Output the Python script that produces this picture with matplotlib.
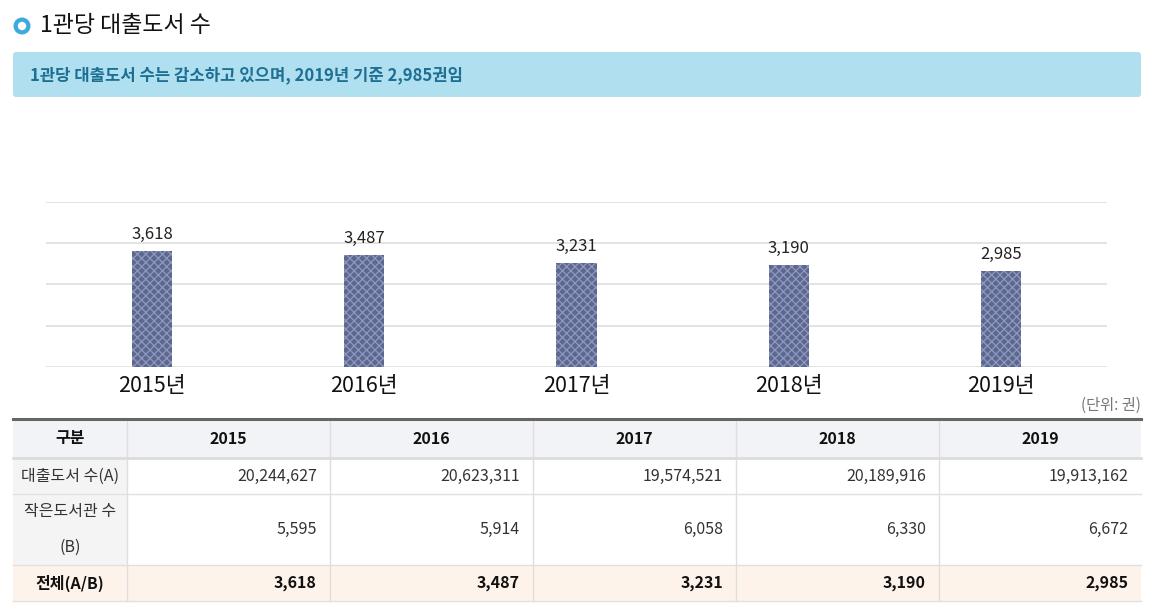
import matplotlib
matplotlib.use("Agg")
import matplotlib.pyplot as plt
import numpy as np
from matplotlib.patches import Rectangle, FancyBboxPatch, Circle

plt.rcParams['font.family'] = ['Noto Sans CJK KR', 'DejaVu Sans']
plt.rcParams['hatch.linewidth'] = 0.9

# data
years = ['2015', '2016', '2017', '2018', '2019']
year_labels = [y + '년' for y in years]
per_library = [3618, 3487, 3231, 3190, 2985]
loans = [20244627, 20623311, 19574521, 20189916, 19913162]
libraries = [5595, 5914, 6058, 6330, 6672]

title = '1관당 대출도서 수'
summary = '1관당 대출도서 수는 감소하고 있으며, 2019년 기준 2,985권임'
unit_note = '(단위: 권)'
row_heads = ['구분', '대출도서 수(A)', '작은도서관 수\n\n(B)', '전체(A/B)']

W, H = 1158, 614
fig = plt.figure(figsize=(W / 100, H / 100), dpi=100)

# overlay in pixel coords for header + table
ov = fig.add_axes([0, 0, 1, 1])
ov.set_xlim(0, W)
ov.set_ylim(H, 0)
ov.axis('off')

# title icon + title
ov.add_patch(Circle((22, 26), 8.5, facecolor='#3fa9dd', edgecolor='none'))
ov.add_patch(Circle((22, 26), 4.2, facecolor='white', edgecolor='none'))
ov.text(40, 25, title, fontsize=16.5, va='center', ha='left', color='#111111')

# summary box
ov.add_patch(FancyBboxPatch((15, 54), 1124, 41, boxstyle='round,pad=2,rounding_size=3',
                            facecolor='#b0e0f0', edgecolor='none'))
ov.text(30, 75, summary, fontsize=12, fontweight='bold', va='center', ha='left',
        color='#1d6f93')

# bar chart
ax = fig.add_axes([46 / W, (H - 367) / H, (1107 - 46) / W, (367 - 202) / H])
ymax = 5150
x = np.arange(len(years))
ax.bar(x, per_library, width=0.19, color='#5d6892', edgecolor='#8f99bb',
       hatch='xxxx', linewidth=0, zorder=3)
for xi, v in zip(x, per_library):
    ax.annotate(f'{v:,}', (xi, v), xytext=(0, 6), textcoords='offset points',
                ha='center', va='bottom', fontsize=12, color='#222222')
ax.set_xlim(-0.5, len(years) - 0.5)
ax.set_ylim(0, ymax)
ax.set_yticks(np.linspace(0, ymax, 5))
ax.set_yticklabels([])
ax.yaxis.grid(True, color='#e3e3e3', linewidth=1.4)
ax.set_axisbelow(True)
ax.tick_params(axis='both', length=0)
ax.set_xticks(x, year_labels, fontsize=15.5, color='#111111')
ax.tick_params(axis='x', pad=6)
for s in ax.spines.values():
    s.set_visible(False)
ax.patch.set_alpha(0)

ov.text(1141, 405, unit_note, fontsize=11, ha='right', va='center', color='#777777')

# table
xs = [13, 127, 330, 533, 736, 939, 1141]
ys = [419, 458, 494, 565, 601]
rows = [
    years,
    [f'{v:,}' for v in loans],
    [f'{v:,}' for v in libraries],
    [f'{v:,}' for v in per_library],
]
fills = ['#f2f3f7', '#ffffff', '#ffffff', '#fdf3ea']
for r in range(4):
    for c in range(6):
        fc = fills[r]
        if c == 0 and r in (1, 2):
            fc = '#f4f4f4'
        ov.add_patch(Rectangle((xs[c], ys[r]), xs[c + 1] - xs[c], ys[r + 1] - ys[r],
                               facecolor=fc, edgecolor='none', zorder=1))
# grid lines
for xv in xs[1:-1]:
    ov.plot([xv, xv], [ys[0], ys[-1]], color='#dedede', lw=1, zorder=2)
for yv in ys[2:]:
    ov.plot([xs[0], xs[-1]], [yv, yv], color='#e0e0e0', lw=1, zorder=2)
ov.plot([xs[0], xs[-1]], [ys[1], ys[1]], color='#dcdcdc', lw=2, zorder=2)
ov.plot([xs[0], xs[-1]], [ys[0], ys[0]], color='#666666', lw=2.2, zorder=3)

for r in range(4):
    yc = (ys[r] + ys[r + 1]) / 2
    bold = r in (0, 3)
    ov.text((xs[0] + xs[1]) / 2, yc, row_heads[r], ha='center', va='center',
            fontsize=11.5, fontweight='bold' if bold else 'normal',
            color='#111111' if bold else '#333333', linespacing=1.08, zorder=4)
    for c in range(5):
        if r == 0:
            ov.text((xs[c + 1] + xs[c + 2]) / 2, yc, rows[r][c], ha='center', va='center',
                    fontsize=11.5, fontweight='bold', color='#111111', zorder=4)
        else:
            ov.text(xs[c + 2] - 13, yc, rows[r][c], ha='right', va='center',
                    fontsize=11.5, fontweight='bold' if bold else 'normal',
                    color='#111111' if bold else '#333333', zorder=4)

fig.savefig('out.png', dpi=100)
